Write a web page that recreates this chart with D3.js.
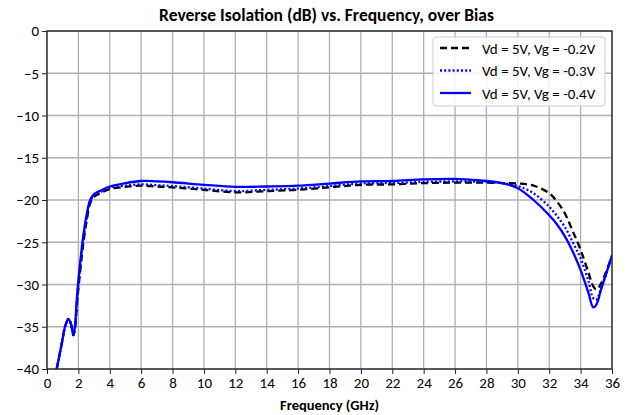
<!DOCTYPE html>
<html><head><meta charset="utf-8">
<script src="https://cdn.jsdelivr.net/npm/d3@7"></script>
<style>
body{margin:0;background:#fff;}
text{font-family:Carlito,Calibri,Lato,sans-serif;}
</style></head>
<body><svg id="c" width="630" height="415"></svg>
<script>
const freq = [0.62,0.8,0.95,1.15,1.36,1.5,1.6,1.68,1.78,1.9,2.0,2.15,2.3,2.5,2.75,3.0,3.4,4,5,6,7,8,10,12,14,16,18,20,22,24,26,28,29,30,31,32,32.5,33,33.5,34,34.5,34.8,35,35.3,35.6,36];
const vg02 = [-40,-38.3,-36.9,-35.0,-34.1,-34.5,-35.3,-36.0,-35.3,-32.5,-30.5,-27.8,-25.3,-22.8,-20.4,-19.6,-19.2,-18.7,-18.45,-18.3,-18.4,-18.5,-18.8,-19.1,-18.95,-18.8,-18.5,-18.2,-18.15,-18.0,-17.95,-17.95,-18.0,-18.05,-18.3,-19.2,-20.2,-21.6,-23.7,-25.9,-28.6,-30.2,-30.6,-29.9,-28.6,-26.6];
const vg03 = [-40,-38.3,-36.9,-35.0,-34.1,-34.5,-35.3,-36.0,-35.1,-32.1,-30.0,-27.3,-24.9,-22.4,-20.2,-19.45,-19.05,-18.55,-18.3,-18.15,-18.25,-18.35,-18.65,-18.95,-18.8,-18.65,-18.35,-18.05,-18.0,-17.85,-17.8,-17.85,-18.0,-18.35,-19.2,-20.8,-21.9,-23.2,-25.0,-26.9,-29.6,-31.6,-31.8,-30.5,-28.9,-26.6];
const vg04 = [-40,-38.3,-36.9,-35.0,-34.1,-34.5,-35.3,-36.0,-35.0,-31.7,-29.5,-26.8,-24.4,-22.0,-20.0,-19.3,-18.9,-18.4,-18.0,-17.75,-17.8,-17.9,-18.2,-18.45,-18.4,-18.3,-18.05,-17.8,-17.75,-17.55,-17.5,-17.75,-18.0,-18.6,-20.0,-21.8,-22.9,-24.3,-26.1,-28.3,-31.0,-32.7,-32.4,-30.6,-28.9,-26.6];
const seriesNames = ["Vd = 5V, Vg = -0.2V","Vd = 5V, Vg = -0.3V","Vd = 5V, Vg = -0.4V"];
const xTicks = d3.range(0,37,2);
const yTicks = d3.range(-40,1,5);
const titleText = "Reverse Isolation (dB) vs. Frequency, over Bias";
const xLabel = "Frequency (GHz)";

const svg = d3.select("#c");
const L=47,R=612,T=31,B=369;
const x = d3.scaleLinear().domain([0,36]).range([L,R]);
const y = d3.scaleLinear().domain([-40,0]).range([B,T]);

const g = svg.append("g");
g.selectAll(".gx").data(xTicks).join("line").attr("x1",d=>x(d)).attr("x2",d=>x(d)).attr("y1",T).attr("y2",B).attr("stroke","#b0b0b0").attr("stroke-width",1.3);
g.selectAll(".gy").data(yTicks).join("line").attr("y1",d=>y(d)).attr("y2",d=>y(d)).attr("x1",L).attr("x2",R).attr("stroke","#b0b0b0").attr("stroke-width",1.3);

svg.append("clipPath").attr("id","clip").append("rect").attr("x",L).attr("y",T).attr("width",R-L).attr("height",B-T);

const styles = [
  {data:vg02,color:"#000",dash:"7,4",w:2.3},
  {data:vg03,color:"#0000ff",dash:"2,2.2",w:2.3},
  {data:vg04,color:"#0000ff",dash:null,w:2.3}
];
const line = d3.line().x(d=>x(d[0])).y(d=>y(d[1])).curve(d3.curveCatmullRom.alpha(0.5));
const pg = svg.append("g").attr("clip-path","url(#clip)");
styles.forEach(s=>{
  pg.append("path").datum(freq.map((f,i)=>[f,s.data[i]])).attr("d",line)
    .attr("fill","none").attr("stroke",s.color).attr("stroke-width",s.w)
    .attr("stroke-dasharray",s.dash);
});

const xa = svg.append("g").attr("transform",`translate(0,${B})`).call(d3.axisBottom(x).tickValues(xTicks).tickSize(5).tickPadding(3).tickFormat(d3.format("d")));
const ya = svg.append("g").attr("transform",`translate(${L},0)`).call(d3.axisLeft(y).tickValues(yTicks).tickSize(5).tickPadding(3).tickFormat(d3.format("d")));
[xa,ya].forEach(a=>{
  a.select(".domain").remove();
  a.selectAll("line").attr("stroke","#222").attr("stroke-width",1);
  a.selectAll("text").attr("font-size",15).attr("fill","#000").style("font-family","Carlito,Calibri,Lato,sans-serif");
});
svg.append("rect").attr("x",L).attr("y",T).attr("width",R-L).attr("height",B-T).attr("fill","none").attr("stroke","#222").attr("stroke-width",1.3);

svg.append("text").attr("x",(L+R)/2-3).attr("y",21).attr("text-anchor","middle").attr("font-size",17.5).attr("font-weight","bold").text(titleText);
svg.append("text").attr("x",(L+R)/2).attr("y",410).attr("text-anchor","middle").attr("font-size",14.5).attr("font-weight","bold").text(xLabel);

const lg = svg.append("g");
lg.append("rect").attr("x",433).attr("y",37).attr("width",172).attr("height",69).attr("rx",3).attr("fill","#fff").attr("fill-opacity",0.85).attr("stroke","#ccc").attr("stroke-width",1);
styles.forEach((s,i)=>{
  const yy = 48+i*22.5;
  lg.append("line").attr("x1",440).attr("x2",471).attr("y1",yy).attr("y2",yy).attr("stroke",s.color).attr("stroke-width",s.w).attr("stroke-dasharray",s.dash);
  lg.append("text").attr("x",482).attr("y",yy+5.5).attr("font-size",15).text(seriesNames[i]);
});
</script></body></html>
